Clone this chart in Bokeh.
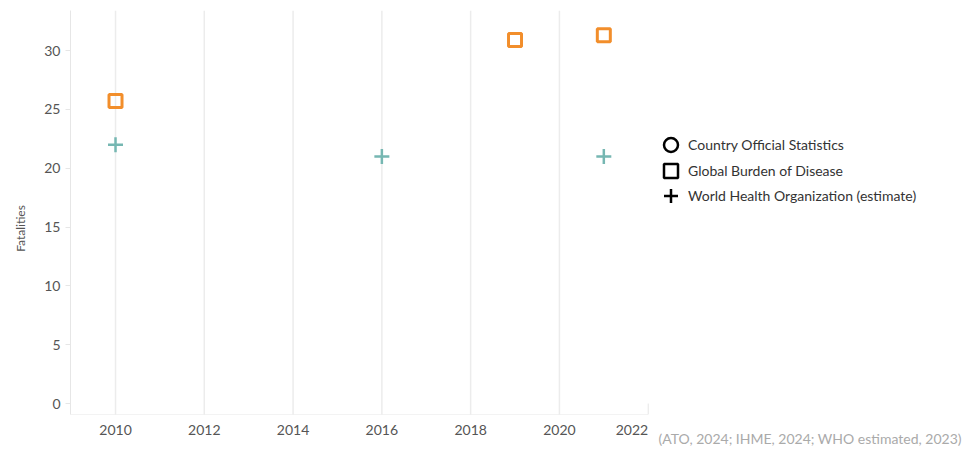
from bokeh.plotting import figure
from bokeh.models import Legend, LegendItem, Label, Range1d, FixedTicker, ColumnDataSource
from bokeh.embed import file_html
from bokeh.resources import INLINE

# Data
gbd_years = [2010, 2019, 2021]
gbd_values = [25.7, 30.9, 31.3]
who_years = [2010, 2016, 2021]
who_values = [22, 21, 21]
x_ticks = [2010, 2012, 2014, 2016, 2018, 2020, 2022]
y_ticks = [0, 5, 10, 15, 20, 25, 30]
legend_labels = ["Country Official Statistics", "Global Burden of Disease", "World Health Organization (estimate)"]
legend_markers = ["circle", "square", "cross"]
source_note = "(ATO, 2024; IHME, 2024; WHO estimated, 2023)"

FONT = "Lato"
X0, X_AXIS_END, X1 = 2008.986, 2022.0, 2029.08
Y_BASE, Y0, Y1 = -0.93, -3.65, 33.4

p = figure(width=962, height=446, output_backend="svg", toolbar_location=None,
           x_range=Range1d(X0, X1), y_range=Range1d(Y0, Y1),
           min_border_left=70, min_border_right=0, min_border_top=10, min_border_bottom=0)
p.outline_line_color = None
p.background_fill_color = "white"
p.border_fill_color = "white"
p.grid.visible = False

# vertical grid lines at the x ticks (within the plotting region)
gx = x_ticks[:-1]
p.segment(x0=gx, y0=[Y_BASE] * len(gx), x1=gx, y1=[Y1] * len(gx),
          line_color="#ececec", line_width=1.5)
# short end mark of the x axis
p.segment(x0=[X_AXIS_END], y0=[Y_BASE], x1=[X_AXIS_END], y1=[0.0],
          line_color="#e6e6e6", line_width=1)

p.xaxis.ticker = FixedTicker(ticks=x_ticks)
p.xaxis.major_label_overrides = {x_ticks[-1]: ""}
p.yaxis.ticker = FixedTicker(ticks=y_ticks)
p.xaxis.fixed_location = Y_BASE
p.xaxis.bounds = (X0, X_AXIS_END)
p.yaxis.bounds = (Y_BASE, Y1)
for ax in (p.xaxis, p.yaxis):
    ax.major_label_text_font = FONT
    ax.major_label_text_font_size = "14px"
    ax.major_label_text_color = "#555555"
    ax.minor_tick_line_color = None
    ax.axis_line_color = "#e6e6e6"
    ax.major_tick_line_color = "#e6e6e6"
p.xaxis.axis_line_dash = "1 1"
p.xaxis.major_tick_line_color = None
p.yaxis.major_tick_in = 0
p.yaxis.major_tick_out = 5
p.yaxis.axis_label = "Fatalities"
p.yaxis.axis_label_text_font = FONT
p.yaxis.axis_label_text_font_style = "normal"
p.yaxis.axis_label_text_font_size = "12px"
p.yaxis.axis_label_text_color = "#555555"
p.yaxis.axis_label_standoff = 13

# last tick label, right-aligned at the axis end as in the reference
p.add_layout(Label(x=x_ticks[-1], y=Y_BASE, y_offset=-11, text=str(x_ticks[-1]),
                   text_align="right", text_baseline="top",
                   text_font=FONT, text_font_size="14px", text_color="#555555"))

p.scatter(gbd_years, gbd_values, marker="square", size=13, fill_color=None,
          line_color="#f28e2b", line_width=3)
p.scatter(who_years, who_values, marker="cross", size=15,
          line_color="#76b7b2", line_width=2.5)

# legend: one small legend per row so the symbols can be large with tight rows
nan = float("nan")
dummy = ColumnDataSource(data=dict(x=[nan], y=[nan]))
row_bottoms = [284, 258, 233]
for lab, mk, yb in zip(legend_labels, legend_markers, row_bottoms):
    r = p.scatter("x", "y", source=dummy, marker=mk, size=13, fill_color=None,
                  line_color="black", line_width=2.5)
    lg = Legend(items=[LegendItem(label=lab, renderers=[r])],
                location=(583, yb), border_line_color=None, background_fill_alpha=0,
                label_text_font=FONT, label_text_font_size="14px", label_text_color="#333333",
                glyph_width=35, glyph_height=35, label_standoff=0, padding=0, margin=0)
    p.add_layout(lg)

p.add_layout(Label(x=588, y=8, x_units="screen", y_units="screen", text=source_note,
                   text_baseline="middle",
                   text_font=FONT, text_font_size="14px", text_color="#aaaaaa"))

open("out.html", "w").write(file_html(p, INLINE))
